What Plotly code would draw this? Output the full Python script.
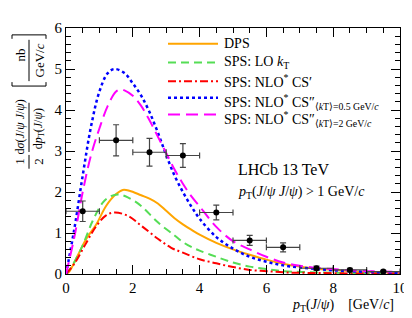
import plotly.graph_objects as go

# ---------------- data ----------------
data_x = [0.5, 1.5, 2.5, 3.5, 4.5, 5.5, 6.5, 7.5, 8.5, 9.5]
data_y = [1.53, 3.26, 2.97, 2.89, 1.50, 0.82, 0.65, 0.14, 0.10, 0.06]
data_yerr = [0.25, 0.38, 0.34, 0.29, 0.18, 0.12, 0.11, 0.05, 0.04, 0.03]
data_xerr = [0.5] * 10

dps_x = [0, 0.1, 0.35, 0.6, 0.9, 1.2, 1.5, 1.7, 1.9, 2.25, 2.5, 2.75, 3.0, 3.25, 3.5, 3.75, 4.0, 4.5, 5.0, 5.5, 6.0, 6.5, 7.0, 7.5, 8.0, 8.5, 9.0, 9.5, 10.0]
dps_y = [0, 0.06, 0.45, 0.85, 1.2, 1.66, 1.95, 2.05, 2.03, 1.92, 1.84, 1.72, 1.54, 1.36, 1.21, 1.08, 0.96, 0.76, 0.60, 0.47, 0.35, 0.25, 0.18, 0.13, 0.10, 0.07, 0.05, 0.04, 0.03]

lokt_x = [0, 0.2, 0.5, 0.8, 1.1, 1.3, 1.55, 1.85, 2.25, 2.75, 3.25, 3.5, 3.75, 4.0, 4.5, 5.0, 5.5, 6.0, 6.5, 7.0, 8.0, 9.0, 10.0]
lokt_y = [0, 0.22, 0.70, 1.30, 1.74, 1.88, 1.94, 1.87, 1.66, 1.26, 0.94, 0.78, 0.66, 0.57, 0.42, 0.28, 0.18, 0.12, 0.07, 0.05, 0.03, 0.02, 0.01]

cs1_x = [0, 0.25, 0.6, 0.9, 1.2, 1.45, 1.85, 2.25, 2.75, 3.15, 3.5, 4.0, 4.5, 5.0, 5.5, 6.0, 6.5, 7.0, 8.0, 9.0, 10.0]
cs1_y = [0, 0.25, 0.75, 1.16, 1.43, 1.50, 1.42, 1.18, 0.86, 0.64, 0.52, 0.36, 0.26, 0.17, 0.10, 0.07, 0.04, 0.03, 0.02, 0.01, 0.01]

cs05_x = [0, 0.25, 0.5, 0.75, 1.0, 1.25, 1.45, 1.75, 2.0, 2.25, 2.5, 2.75, 3.0, 3.25, 3.5, 3.75, 4.0, 4.5, 5.0, 5.5, 6.0, 6.5, 7.0, 7.5, 8.0, 8.5, 9.0, 9.5, 10.0]
cs05_y = [0, 1.1, 2.4, 3.6, 4.45, 4.9, 5.0, 4.9, 4.65, 4.35, 3.95, 3.45, 2.9, 2.4, 2.0, 1.65, 1.35, 0.90, 0.62, 0.42, 0.30, 0.21, 0.16, 0.12, 0.09, 0.07, 0.05, 0.04, 0.03]

cs2_x = [0, 0.25, 0.5, 0.75, 1.0, 1.25, 1.5, 1.65, 1.75, 2.0, 2.25, 2.5, 2.75, 3.0, 3.25, 3.5, 3.75, 4.0, 4.5, 5.0, 5.5, 6.0, 6.5, 7.0, 7.5, 8.0, 8.5, 9.0, 9.5, 10.0]
cs2_y = [0, 0.9, 2.0, 2.9, 3.55, 4.1, 4.45, 4.5, 4.48, 4.35, 4.1, 3.75, 3.35, 2.95, 2.55, 2.2, 1.9, 1.65, 1.15, 0.80, 0.60, 0.42, 0.28, 0.20, 0.15, 0.12, 0.09, 0.07, 0.06, 0.05]

x_ticks = [0, 2, 4, 6, 8, 10]
y_ticks = [0, 1, 2, 3, 4, 5, 6]

legend_labels = [
    "DPS",
    "SPS: LO <i>k</i><sub>T</sub>",
    "SPS: NLO<sup>*</sup> CS′",
    "SPS: NLO<sup>*</sup> CS″<sub>⟨<i>k</i>T⟩=0.5 GeV/<i>c</i></sub>",
    "SPS: NLO<sup>*</sup> CS″<sub>⟨<i>k</i>T⟩=2 GeV/<i>c</i></sub>",
]

# ---------------- figure ----------------
W, H = 412, 318
L, R, T, B = 58, 20, 16, 52
PW, PH = W - L - R, H - T - B

def px(x):
    return (x - L) / PW

def py(y):
    return (H - B - y) / PH

FONT = "Liberation Serif, DejaVu Serif, serif"

styles = [
    dict(color="#FFA500", width=2, dash="solid"),
    dict(color="#55DD55", width=2, dash="8px,5px"),
    dict(color="#FF0000", width=2, dash="8px,3px,2px,3px"),
    dict(color="#0000FF", width=2.5, dash="3px,3px"),
    dict(color="#FF00FF", width=2, dash="12px,6px"),
]
curves = [(dps_x, dps_y), (lokt_x, lokt_y), (cs1_x, cs1_y), (cs05_x, cs05_y), (cs2_x, cs2_y)]

fig = go.Figure()
for (cx, cy), st, lab in zip(curves, styles, legend_labels):
    fig.add_trace(go.Scatter(x=cx, y=cy, mode="lines", line=dict(shape="spline", **st),
                             name=lab, showlegend=False))

fig.add_trace(go.Scatter(x=data_x, y=data_y, mode="markers",
                         marker=dict(color="black", size=6),
                         error_y=dict(type="data", array=data_yerr, color="#444", thickness=1.2, width=3),
                         error_x=dict(type="data", array=data_xerr, color="#444", thickness=1.2, width=3),
                         showlegend=False, name="LHCb"))

axis_common = dict(showline=True, linecolor="black", linewidth=1, mirror="ticks",
                   ticks="inside", tickcolor="black", showgrid=False, zeroline=False,
                   tickfont=dict(family=FONT, size=15, color="black"))

fig.update_xaxes(range=[0, 10], tickvals=x_ticks, ticklen=9,
                 minor=dict(dtick=0.5, ticks="inside", ticklen=5, tickcolor="black"), **axis_common)
fig.update_yaxes(range=[0, 6], tickvals=y_ticks, ticklen=9,
                 minor=dict(dtick=0.2, ticks="inside", ticklen=5, tickcolor="black"), **axis_common)

YT = 12
annotations = [
    dict(text="LHCb 13 TeV", x=px(228), y=py(160), xanchor="left", yanchor="middle",
         font=dict(size=16)),
    dict(text="<i>p</i><sub>T</sub>(<i>J</i>/<i>ψ</i> <i>J</i>/<i>ψ</i>) > 1 GeV/<i>c</i>", x=px(228), y=py(183),
         xanchor="left", yanchor="middle", font=dict(size=14)),
    dict(text="<i>p</i><sub>T</sub>(<i>J</i>/<i>ψ</i>)    [GeV/<i>c</i>]", x=px(388), y=py(298),
         xanchor="right", yanchor="middle", font=dict(size=14)),
    # y title: 1/2 dσ/dpT
    dict(text="1", x=px(12), y=py(152), textangle=-90, font=dict(size=YT + 1)),
    dict(text="2", x=px(31), y=py(152), textangle=-90, font=dict(size=YT + 1)),
    dict(text="d<i>σ</i>(<i>J</i>/<i>ψ</i> <i>J</i>/<i>ψ</i>)", x=px(12), y=py(117), textangle=-90, font=dict(size=YT)),
    dict(text="d<i>p</i><sub>T</sub>(<i>J</i>/<i>ψ</i>)", x=px(31), y=py(119), textangle=-90, font=dict(size=YT)),
    dict(text="nb", x=px(13), y=py(44), textangle=-90, font=dict(size=YT + 1)),
    dict(text="GeV/<i>c</i>", x=px(31), y=py(49), textangle=-90, font=dict(size=YT + 1)),
]

legend_y = [32, 51, 70, 87, 104]
shapes = [
    # fraction bars
    dict(type="line", x0=px(21), x1=px(21), y0=py(145), y1=py(159), line=dict(color="black", width=1)),
    dict(type="line", x0=px(21), x1=px(21), y0=py(92), y1=py(142), line=dict(color="black", width=1)),
    dict(type="line", x0=px(21), x1=px(21), y0=py(28), y1=py(70), line=dict(color="black", width=1)),
    # brackets
    dict(type="path", path=f"M {px(4)} {py(71)} L {px(4)} {py(75)} L {px(38)} {py(75)} L {px(38)} {py(71)}",
         line=dict(color="black", width=1)),
    dict(type="path", path=f"M {px(4)} {py(27)} L {px(4)} {py(23)} L {px(38)} {py(23)} L {px(38)} {py(27)}",
         line=dict(color="black", width=1)),
]
# legend drawn manually: sample line + label
for ly, st, lab in zip(legend_y, styles, legend_labels):
    shapes.append(dict(type="line", x0=px(160), x1=px(210), y0=py(ly), y1=py(ly), line=dict(st)))
    annotations.append(dict(text=lab, x=px(214), y=py(ly + (4 if "sub>⟨" in lab else 0)),
                            xanchor="left", yanchor="middle", font=dict(size=14)))

for a in annotations:
    a.setdefault("xref", "paper")
    a.setdefault("yref", "paper")
    a.setdefault("showarrow", False)
    a.setdefault("xanchor", "center")
    a.setdefault("yanchor", "middle")
    a["font"] = dict(family=FONT, color="black", size=a["font"]["size"])
for s in shapes:
    s["xref"] = "paper"
    s["yref"] = "paper"

fig.update_layout(
    width=W, height=H,
    margin=dict(l=L, r=R, t=T, b=B),
    paper_bgcolor="white", plot_bgcolor="white",
    font=dict(family=FONT, size=14, color="black"),
    showlegend=False,
    annotations=annotations,
    shapes=shapes,
)

fig.write_html("out.html")
